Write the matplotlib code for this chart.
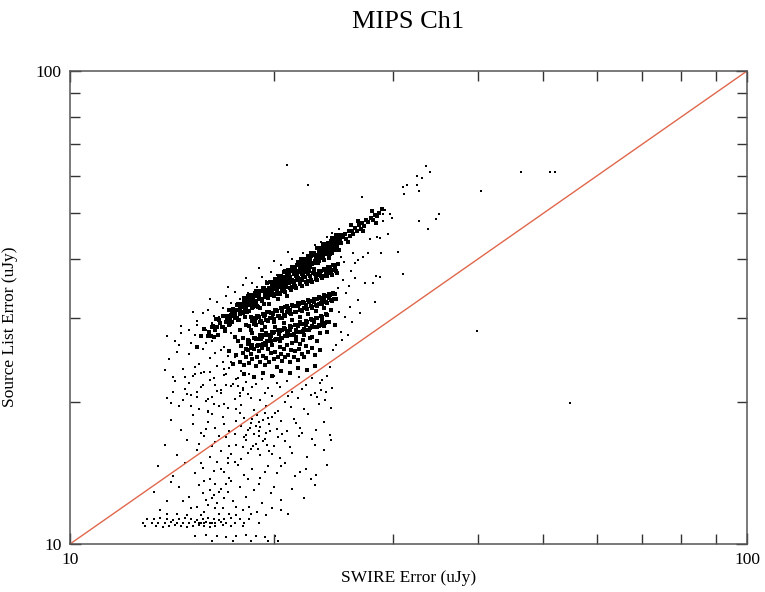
import numpy as np
import matplotlib
matplotlib.use('Agg')
import matplotlib.pyplot as plt
from matplotlib.ticker import FixedLocator, NullFormatter

### DATA (uJy)
# main (top) stripe, SWIRE error vs source list error
main_band = [
    (15.4, 26.1), (15.6, 27.5), (15.8, 28.5), (16.0, 27.5), (16.2, 28.8), (16.3, 27.4), (16.5, 28.8), (16.6, 29.7),
    (16.8, 28.7), (16.9, 30.4), (17.0, 29.4), (17.1, 30.3), (17.2, 29.1), (17.3, 30.5), (17.4, 31.4), (17.5, 30.1),
    (17.6, 31.3), (17.7, 29.8), (17.8, 31.1), (17.9, 32.0), (18.0, 30.8), (18.1, 32.5), (18.2, 31.4), (18.3, 32.4),
    (18.4, 31.1), (18.5, 32.6), (18.6, 33.6), (18.7, 32.1), (18.8, 33.5), (18.9, 31.8), (19.0, 33.2), (19.1, 34.2),
    (19.2, 32.8), (19.3, 34.7), (19.4, 33.5), (19.5, 34.5), (19.6, 33.2), (19.7, 34.7), (19.8, 35.8), (19.9, 34.2),
    (20.0, 35.6), (20.1, 33.8), (20.2, 35.2), (20.3, 36.3), (20.4, 34.9), (20.5, 36.8), (20.6, 35.6), (20.7, 36.7),
    (20.8, 35.2), (20.9, 36.8), (21.0, 37.9), (21.1, 36.3), (21.2, 37.7), (21.3, 35.9), (21.4, 37.3), (21.5, 38.5),
    (21.6, 36.9), (21.7, 39.0), (21.8, 37.7), (21.9, 38.8), (22.0, 37.2), (22.1, 38.9), (22.2, 40.1), (22.3, 38.3),
    (22.4, 39.9), (22.5, 37.9), (22.6, 39.4), (22.7, 40.6), (22.8, 39.0), (22.9, 41.2), (23.0, 39.7), (23.1, 40.9),
    (23.2, 39.3), (23.3, 41.1), (23.4, 42.3), (23.5, 40.4), (23.6, 42.0), (23.7, 39.9), (23.8, 41.5), (23.9, 42.7),
    (24.0, 41.0), (24.1, 43.3), (24.2, 41.8), (24.3, 43.0), (24.4, 41.3), (24.5, 43.2), (24.6, 44.4), (24.7, 42.5),
    (24.8, 44.1), (24.9, 41.9), (25.0, 43.6), (25.1, 44.9),
    (16.05, 28.0), (16.15, 27.5), (16.25, 28.9), (16.35, 28.4), (16.45, 29.9), (16.55, 27.7), (16.65, 29.3), (16.75, 28.8),
    (16.85, 30.3), (16.95, 28.2), (17.05, 29.9), (17.15, 31.3), (17.25, 30.1), (17.35, 29.5), (17.45, 31.1), (17.55, 30.5),
    (17.65, 32.0), (17.75, 29.7), (17.85, 31.5), (17.95, 30.9), (18.05, 32.4), (18.15, 30.2), (18.25, 32.0), (18.35, 33.5),
    (18.45, 32.2), (18.55, 31.6), (18.65, 33.2), (18.75, 32.6), (18.85, 34.2), (18.95, 31.7), (19.05, 33.6), (19.15, 32.9),
    (19.25, 34.6), (19.35, 32.2), (19.45, 34.1), (19.55, 35.6), (19.65, 34.3), (19.75, 33.6), (19.85, 35.3), (19.95, 34.6),
    (20.05, 36.4), (20.15, 33.8), (20.25, 35.7), (20.35, 35.0), (20.45, 36.8), (20.55, 34.2), (20.65, 36.2), (20.75, 37.8),
    (20.85, 36.4), (20.95, 35.6), (21.05, 37.5), (21.15, 36.7), (21.25, 38.6), (21.35, 35.8), (21.45, 37.8), (21.55, 37.0),
    (21.65, 38.9), (21.75, 36.2), (21.85, 38.3), (21.95, 40.0), (22.05, 38.5), (22.15, 37.7), (22.25, 39.6), (22.35, 38.8),
    (22.45, 40.7), (22.55, 37.8), (22.65, 39.9), (22.75, 39.1), (22.85, 41.1), (22.95, 38.2), (23.05, 40.4), (23.15, 42.2),
    (23.25, 40.6), (23.35, 39.7), (23.45, 41.7), (23.55, 40.9), (23.65, 42.9), (23.75, 39.8), (23.85, 42.0), (23.95, 41.2),
    (24.05, 43.2), (24.15, 40.2), (24.25, 42.5), (24.35, 44.4), (24.45, 42.7), (24.55, 41.8), (24.65, 43.9), (24.75, 43.0),
    (24.85, 45.1), (24.95, 41.8), (25.05, 44.1), (25.15, 43.2),
    (17.03, 30.2), (17.13, 29.6), (17.23, 29.2), (17.33, 31.1), (17.43, 30.3), (17.53, 30.7), (17.63, 30.0), (17.73, 32.2),
    (17.83, 30.6), (17.93, 32.1), (18.03, 31.9), (18.13, 31.3), (18.23, 30.9), (18.33, 32.9), (18.43, 32.0), (18.53, 32.5),
    (18.63, 31.7), (18.73, 34.0), (18.83, 32.4), (18.93, 33.9), (19.03, 33.7), (19.13, 33.0), (19.23, 32.6), (19.33, 34.7),
    (19.43, 33.7), (19.53, 34.3), (19.63, 33.4), (19.73, 35.8), (19.83, 34.1), (19.93, 35.6), (20.03, 35.5), (20.13, 34.8),
    (20.23, 34.2), (20.33, 36.5), (20.43, 35.5), (20.53, 36.0), (20.63, 35.1), (20.73, 37.6), (20.83, 35.8), (20.93, 37.4),
    (21.03, 37.3), (21.13, 36.5), (21.23, 35.9), (21.33, 38.3), (21.43, 37.2), (21.53, 37.8), (21.63, 36.8), (21.73, 39.4),
    (21.83, 37.5), (21.93, 39.2), (22.03, 39.0), (22.13, 38.2), (22.23, 37.6), (22.33, 40.1), (22.43, 38.9), (22.53, 39.5),
    (22.63, 38.5), (22.73, 41.2), (22.83, 39.2), (22.93, 41.0), (23.03, 40.8), (23.13, 40.0), (23.23, 39.3), (23.33, 41.9),
    (23.43, 40.7), (23.53, 41.3), (23.63, 40.2), (23.73, 43.1), (23.83, 41.0), (23.93, 42.8), (24.03, 42.6), (24.13, 41.7),
    (24.23, 41.0), (24.33, 43.7), (24.43, 42.4), (24.53, 43.0), (24.63, 41.9), (24.73, 44.9), (24.83, 42.7), (24.93, 44.6),
]

# sparse continuation of the main stripe
tail = [
    (25.3, 44.6), (25.5, 45.3), (25.6, 44.1), (25.8, 45.9), (25.9, 44.8), (26.1, 46.0), (26.2, 45.2), (26.4, 46.6),
    (26.5, 45.9), (26.7, 47.2), (26.9, 46.4), (27.0, 47.8), (27.2, 47.0), (27.4, 48.3), (27.6, 47.9), (27.8, 48.9),
    (28.0, 48.4), (28.2, 49.6), (28.4, 49.3), (28.6, 50.2), (26.0, 47.3), (27.1, 45.9), (27.9, 50.5), (28.9, 51.0),
    (25.7, 43.5), (26.6, 48.1), (28.3, 47.6),
]

band_2 = [
    (18.0, 31.7), (18.1, 33.2), (18.2, 33.0), (18.3, 32.3), (18.4, 32.1), (18.5, 33.6), (18.6, 33.3), (18.7, 32.6),
    (18.8, 32.4), (18.9, 33.9), (19.0, 33.7), (19.1, 33.0), (19.2, 32.8), (19.3, 34.3), (19.4, 34.0), (19.5, 33.3),
    (19.6, 33.1), (19.7, 34.6), (19.8, 34.4), (19.9, 33.7), (20.0, 33.4), (20.1, 35.0), (20.2, 34.7), (20.3, 34.0),
    (20.4, 33.7), (20.5, 35.3), (20.6, 35.1), (20.7, 34.4), (20.8, 34.1), (20.9, 35.7), (21.0, 35.6), (21.1, 34.8),
    (21.2, 34.4), (21.3, 36.1), (21.4, 35.9), (21.5, 35.1), (21.6, 34.8), (21.7, 36.5), (21.8, 36.3), (21.9, 35.5),
    (22.0, 35.1), (22.1, 36.9), (22.2, 36.6), (22.3, 35.8), (22.4, 35.5), (22.5, 37.2), (22.6, 36.9), (22.7, 36.1),
    (22.8, 35.8), (22.9, 37.5), (23.0, 37.3), (23.1, 36.4), (23.2, 36.1), (23.3, 37.8), (23.4, 37.6), (23.5, 36.8),
    (23.6, 36.5), (23.7, 38.2), (23.8, 37.9), (23.9, 37.1), (24.0, 36.8), (24.1, 38.5), (24.2, 38.2), (24.3, 37.4),
    (24.4, 37.1), (24.5, 38.8), (24.6, 38.6), (24.7, 37.8), (24.8, 37.4), (24.9, 39.1),
    (18.25, 32.7), (18.45, 32.6), (18.65, 33.6), (18.85, 32.7), (19.05, 33.6), (19.25, 34.3), (19.45, 33.5), (19.65, 33.9),
    (19.85, 34.6), (20.05, 33.8), (20.25, 34.7), (20.45, 35.3), (20.65, 34.5), (20.85, 35.0), (21.05, 35.7), (21.25, 34.9),
    (21.45, 35.7), (21.65, 36.4), (21.85, 35.5), (22.05, 36.1), (22.25, 36.7), (22.45, 35.9), (22.65, 36.8), (22.85, 37.4),
    (23.05, 36.5), (23.25, 37.1), (23.45, 37.8), (23.65, 36.8), (23.85, 37.8), (24.05, 38.5), (24.25, 37.5), (24.45, 38.0),
    (24.65, 38.8),
]

band_3 = [
    (18.4, 28.9), (18.5, 30.2), (18.6, 30.0), (18.7, 29.2), (18.8, 29.1), (18.9, 30.4), (19.0, 30.2), (19.1, 29.4),
    (19.2, 29.3), (19.3, 30.7), (19.4, 30.5), (19.5, 29.7), (19.6, 29.6), (19.7, 31.0), (19.8, 30.8), (19.9, 30.0),
    (20.0, 29.9), (20.1, 31.3), (20.2, 31.1), (20.3, 30.3), (20.4, 30.1), (20.5, 31.5), (20.6, 31.3), (20.7, 30.5),
    (20.8, 30.4), (20.9, 31.8), (21.0, 31.6), (21.1, 30.8), (21.2, 30.6), (21.3, 32.0), (21.4, 31.8), (21.5, 31.0),
    (21.6, 30.9), (21.7, 32.3), (21.8, 32.1), (21.9, 31.2), (22.0, 31.1), (22.1, 32.5), (22.2, 32.4), (22.3, 31.5),
    (22.4, 31.4), (22.5, 32.8), (22.6, 32.6), (22.7, 31.8), (22.8, 31.6), (22.9, 33.0), (23.0, 32.9), (23.1, 32.0),
    (23.2, 31.9), (23.3, 33.3), (23.4, 33.1), (23.5, 32.3), (23.6, 32.1), (23.7, 33.6), (23.8, 33.4), (23.9, 32.5),
    (24.0, 32.4), (24.1, 33.8), (24.2, 33.6), (24.3, 32.8), (24.4, 32.6), (24.5, 34.0), (24.6, 33.8), (24.7, 33.0),
    (18.55, 29.6), (18.75, 29.5), (18.95, 30.3), (19.15, 29.6), (19.35, 30.4), (19.55, 30.9), (19.75, 30.1), (19.95, 30.6),
    (20.15, 31.2), (20.35, 30.3), (20.55, 31.1), (20.75, 31.7), (20.95, 30.9), (21.15, 31.3), (21.35, 31.9), (21.55, 31.0),
    (21.75, 31.8), (21.95, 32.4), (22.15, 31.5), (22.35, 32.0), (22.55, 32.5), (22.75, 31.7), (22.95, 32.5), (23.15, 33.0),
    (23.35, 32.2), (23.55, 32.6), (23.75, 33.2), (23.95, 32.4), (24.15, 33.1), (24.35, 33.8), (24.55, 32.9),
]

band_4 = [
    (18.2, 25.8), (18.3, 27.0), (18.4, 26.9), (18.5, 26.0), (18.6, 26.1), (18.7, 27.3), (18.8, 27.1), (18.9, 26.2),
    (19.0, 26.3), (19.1, 27.6), (19.2, 27.4), (19.3, 26.5), (19.4, 26.6), (19.5, 27.9), (19.6, 27.7), (19.7, 26.8),
    (19.8, 26.9), (19.9, 28.1), (20.0, 28.0), (20.1, 27.0), (20.2, 27.1), (20.3, 28.4), (20.4, 28.2), (20.5, 27.3),
    (20.6, 27.3), (20.7, 28.6), (20.8, 28.5), (20.9, 27.5), (21.0, 27.6), (21.1, 28.9), (21.2, 28.7), (21.3, 27.7),
    (21.4, 27.8), (21.5, 29.1), (21.6, 29.0), (21.7, 28.0), (21.8, 28.1), (21.9, 29.4), (22.0, 29.2), (22.1, 28.2),
    (22.2, 28.3), (22.3, 29.6), (22.4, 29.5), (22.5, 28.4), (22.6, 28.6), (22.7, 29.9), (22.8, 29.7), (22.9, 28.7),
    (23.0, 28.8), (23.1, 30.1), (23.2, 30.0), (23.3, 28.9), (23.4, 29.1), (23.5, 30.4), (23.6, 30.2), (23.7, 29.2),
    (23.8, 29.3), (23.9, 30.6), (24.0, 30.5), (24.1, 29.4),
    (18.35, 26.5), (18.55, 26.3), (18.75, 27.2), (18.95, 26.4), (19.15, 27.1), (19.35, 27.6), (19.55, 26.9), (19.75, 27.3),
    (19.95, 27.9), (20.15, 27.1), (20.35, 27.8), (20.55, 28.3), (20.75, 27.5), (20.95, 27.9), (21.15, 28.4), (21.35, 27.7),
    (21.55, 28.3), (21.75, 28.9), (21.95, 28.1), (22.15, 28.5), (22.35, 29.0), (22.55, 28.3), (22.75, 28.9), (22.95, 29.5),
    (23.15, 28.7), (23.35, 29.1), (23.55, 29.6), (23.75, 28.9), (23.95, 29.5),
]

# dense cloud under / between the stripes
cloud_mid = [
    (17.6, 25.1), (17.8, 24.3), (17.9, 26.2), (18.0, 25.4), (18.1, 23.9), (18.2, 24.8), (18.3, 25.7), (18.4, 24.1),
    (18.5, 25.2), (18.6, 24.6), (18.7, 25.9), (18.8, 23.8), (18.9, 24.9), (19.0, 25.6), (19.1, 24.3), (19.2, 26.0),
    (19.3, 25.0), (19.4, 23.9), (19.5, 24.7), (19.6, 25.8), (19.7, 24.2), (19.8, 25.3), (19.9, 26.3), (20.0, 24.6),
    (20.1, 25.5), (20.2, 23.7), (20.3, 24.9), (20.4, 26.1), (20.5, 25.2), (20.6, 24.4), (20.7, 25.9), (20.8, 24.8),
    (20.9, 26.4), (21.0, 25.1), (21.1, 24.2), (21.2, 25.7), (21.3, 26.6), (21.4, 24.9), (21.5, 25.6), (21.6, 26.9),
    (21.7, 24.5), (21.8, 25.8), (21.9, 26.5), (22.0, 25.2), (22.1, 27.0), (22.2, 24.8), (22.3, 26.2), (22.5, 25.5),
    (22.6, 27.2), (22.8, 26.0), (23.0, 25.1), (23.2, 26.8), (23.4, 25.7), (17.7, 26.8), (18.0, 27.3), (18.3, 26.5),
    (18.6, 27.9), (18.9, 27.1), (19.2, 28.3), (19.5, 26.4), (19.8, 27.5), (20.1, 28.8), (20.4, 26.8), (20.7, 29.3),
    (21.0, 28.2), (21.3, 29.8), (21.6, 27.4), (21.9, 30.2), (22.2, 27.7), (22.5, 30.6), (22.8, 27.4), (23.1, 31.1),
    (23.4, 27.9), (23.7, 31.5), (24.0, 28.1), (24.3, 31.2), (24.6, 29.0), (18.1, 22.9), (18.7, 22.6), (19.3, 23.0),
    (19.9, 22.7), (20.5, 23.2), (21.1, 23.0), (21.7, 23.5), (22.4, 23.3), (23.0, 23.8), (17.4, 24.0), (17.2, 25.6),
    (17.5, 27.4), (17.8, 28.3), (18.2, 29.0), (18.5, 28.4), (18.8, 30.1), (19.1, 31.6), (19.4, 28.8), (19.7, 32.2),
    (20.0, 29.4), (20.3, 32.9), (20.6, 30.0), (20.9, 33.4),
]

# sparse cloud left of the stripes
cloud_left = [
    (14.0, 24.6), (14.3, 22.1), (14.5, 26.3), (14.7, 23.4), (14.9, 20.8), (15.0, 25.2), (15.2, 22.7), (15.3, 27.6),
    (15.5, 24.0), (15.6, 21.5), (15.7, 25.8), (15.8, 23.1), (15.9, 28.4), (16.0, 20.3), (16.1, 24.7), (16.2, 26.9),
    (16.3, 22.4), (16.4, 25.3), (16.5, 23.8), (16.6, 27.8), (16.7, 21.2), (16.8, 24.3), (16.9, 26.1), (17.0, 22.9),
    (17.1, 25.0), (17.2, 23.6), (17.3, 27.9), (17.4, 21.8), (17.5, 24.8), (17.6, 22.3), (17.8, 20.6), (17.9, 23.2),
    (18.0, 21.4), (18.2, 22.0), (16.2, 29.3), (16.6, 30.2), (15.4, 29.0), (17.0, 28.6), (14.6, 27.9), (15.1, 19.6),
    (16.0, 19.1), (16.9, 19.8), (17.6, 19.3), (14.2, 21.0), (13.8, 23.3), (15.3, 23.7), (16.1, 23.1), (16.7, 25.7),
    (17.3, 24.2), (15.9, 26.6), (14.4, 25.5), (14.8, 22.6), (15.1, 26.6), (15.6, 23.0), (16.4, 21.7), (16.9, 23.4),
    (17.7, 21.6), (15.4, 20.5), (16.6, 19.6), (14.1, 19.9),
]

# sparse points above the main stripe
cloud_top = [
    (15.0, 28.3), (15.4, 29.6), (15.7, 30.8), (16.0, 31.2), (16.3, 30.4), (16.5, 32.5), (16.8, 31.6), (17.0, 33.4),
    (17.3, 32.3), (17.5, 34.1), (17.8, 33.0), (18.0, 35.2), (18.3, 34.0), (18.6, 35.6), (18.9, 35.0), (19.2, 36.7),
    (19.5, 35.9), (19.8, 37.6), (20.2, 37.0), (20.5, 38.8), (20.9, 38.2), (21.3, 40.1), (21.7, 39.6), (22.1, 41.3),
    (22.6, 41.0), (23.0, 42.8), (23.5, 43.4), (24.0, 44.6), (24.4, 45.5), (25.0, 46.4), (14.6, 28.9), (15.2, 31.0),
    (16.1, 33.0), (17.1, 34.9), (18.2, 36.5), (19.0, 38.4), (20.0, 39.7), (21.0, 41.5), (14.3, 26.8), (13.9, 27.5),
]

# sparse points right of the stripes
cloud_right = [
    (27.0, 54.1), (27.75, 44.1), (28.4, 44.6), (26.2, 41.3), (26.35, 39.3), (26.6, 39.8), (27.1, 40.4), (27.6, 41.3),
    (27.3, 35.6), (26.35, 36.5), (28.0, 35.6), (26.6, 32.8), (25.9, 31.7), (28.3, 36.8), (28.2, 32.5), (26.1, 29.5),
    (26.8, 30.8), (25.1, 28.1), (25.7, 27.7), (24.5, 25.7), (24.2, 23.7), (23.6, 22.2), (23.5, 21.2), (23.9, 21.0),
    (23.2, 20.45), (25.3, 36.2), (25.6, 33.9), (25.0, 31.0), (25.4, 39.5), (25.8, 35.1), (24.9, 34.8), (25.2, 27.0),
    (24.7, 26.3), (25.5, 30.2), (26.0, 37.8), (24.8, 33.0), (25.1, 40.5),
]

# isolated outliers
outliers = [
    (33.6, 63.0), (32.6, 60.0), (33.1, 59.4), (34.0, 61.2), (31.5, 57.4), (31.0, 56.9), (32.6, 57.4), (32.8, 55.8),
    (31.1, 55.0), (40.5, 55.8), (46.4, 61.2), (51.2, 61.2), (52.1, 61.2), (29.2, 50.8), (29.0, 49.9), (29.7, 49.9),
    (29.9, 48.9), (29.0, 48.2), (35.1, 49.9), (34.7, 48.7), (32.8, 48.2), (33.8, 46.3), (29.5, 45.2), (28.7, 44.4),
    (30.5, 41.4), (28.8, 41.3), (31.0, 37.2), (28.7, 36.7), (39.9, 28.2), (54.8, 19.9), (22.5, 57.4), (20.9, 63.4),
]

# lower column below the one-to-one line
column_low = [
    (14.2, 22.6), (14.8, 21.3), (15.3, 22.9), (15.7, 21.7), (16.1, 22.2), (16.5, 21.1), (16.9, 22.8), (17.3, 21.6),
    (17.7, 22.4), (18.0, 21.2), (18.4, 22.9), (18.8, 21.8), (19.2, 22.3), (19.6, 21.4), (20.0, 22.7), (20.4, 21.5),
    (20.9, 22.1), (21.3, 21.0), (21.8, 22.6), (22.3, 21.7), (22.8, 22.4), (23.4, 21.9), (24.0, 22.7), (24.4, 21.4),
    (15.0, 21.9),
    (13.9, 20.4), (14.5, 19.6), (15.1, 20.7), (15.5, 19.3), (15.9, 20.1), (16.3, 19.8), (16.7, 20.9), (17.1, 19.4),
    (17.5, 20.3), (17.9, 19.7), (18.3, 20.8), (18.7, 19.2), (19.1, 20.2), (19.5, 19.6), (19.9, 20.6), (20.3, 19.1),
    (20.8, 20.0), (21.2, 19.5), (21.7, 20.4), (22.2, 19.3), (22.7, 20.7), (23.3, 19.8), (23.8, 20.2), (24.3, 19.4),
    (16.0, 19.0), (18.5, 20.4),
    (14.7, 20.2), (15.4, 21.0), (16.2, 20.5), (17.0, 21.7), (17.8, 20.9), (18.6, 21.5), (19.4, 20.9), (20.2, 21.9),
    (21.0, 20.6), (22.0, 21.3), (23.0, 20.9),
    (14.1, 18.3), (14.6, 17.4), (15.2, 18.7), (15.6, 17.2), (16.0, 18.1), (16.4, 17.6), (16.8, 18.6), (17.2, 17.3),
    (17.6, 18.2), (17.9, 17.8), (18.1, 18.5), (18.3, 17.4), (18.5, 18.0), (18.7, 17.1), (18.9, 18.7), (19.1, 17.7),
    (19.3, 18.3), (19.5, 17.2), (19.7, 17.9), (19.9, 18.6), (20.2, 17.5), (20.5, 18.2), (20.9, 17.3), (21.4, 18.4),
    (21.9, 17.6), (22.5, 18.8), (23.1, 17.4), (23.7, 18.1), (24.2, 17.0), (18.2, 17.0), (18.6, 18.4), (19.0, 17.3),
    (19.4, 18.9), (18.8, 17.8), (19.6, 18.5),
    (15.2, 17.9), (15.5, 16.3), (15.9, 17.5), (16.2, 18.8), (16.6, 16.9), (16.9, 17.9), (17.2, 16.1), (17.5, 17.1),
    (17.8, 18.9), (18.05, 16.8), (18.35, 15.6), (18.45, 17.6), (18.65, 16.1), (18.95, 15.9), (19.05, 18.1), (19.25, 16.5),
    (19.55, 16.2), (19.75, 17.3), (20.1, 18.9), (20.3, 16.8), (20.6, 17.1), (21.1, 16.0), (21.6, 18.0), (22.0, 17.2),
    (22.8, 16.7),
    (13.8, 16.2), (14.4, 15.4), (14.9, 16.6), (15.4, 15.8), (15.8, 16.9), (16.1, 15.3), (16.4, 16.4), (16.7, 15.7),
    (17.0, 16.8), (17.3, 15.5), (17.6, 16.2), (17.9, 15.1), (18.2, 16.6), (18.5, 15.9), (18.8, 16.3), (19.1, 15.4),
    (19.4, 16.7), (19.7, 15.7), (20.0, 16.1), (20.4, 15.2), (20.8, 16.5), (21.3, 15.6), (21.8, 16.9), (22.4, 15.3),
    (23.0, 16.2), (23.7, 15.8), (24.3, 16.6), (16.2, 16.1), (17.1, 15.2), (18.0, 16.0), (19.0, 16.9), (19.9, 15.5),
    (13.5, 14.6), (14.2, 13.9), (14.8, 14.8), (15.3, 14.1), (15.7, 14.5), (16.1, 13.7), (16.5, 14.9), (16.9, 14.2),
    (17.3, 13.6), (17.7, 14.7), (18.1, 14.0), (18.6, 14.4), (19.1, 13.8), (19.6, 14.6), (20.2, 14.1), (20.8, 14.8),
    (21.5, 13.9), (22.3, 14.4), (23.1, 14.0), (24.0, 14.7), (16.3, 14.3), (17.5, 14.9),
    (15.6, 14.8), (16.7, 14.4), (17.1, 14.8), (18.3, 13.7), (19.4, 14.2), (20.5, 14.6), (21.9, 14.2), (22.7, 13.7),
    (13.3, 12.9), (13.9, 12.3), (14.5, 13.2), (15.0, 12.6), (15.5, 13.3), (15.9, 12.4), (16.1, 13.0), (16.3, 12.7),
    (16.5, 12.2), (16.7, 13.1), (16.9, 12.5), (17.1, 12.9), (17.4, 12.3), (17.8, 13.2), (18.2, 12.6), (18.7, 13.0),
    (19.2, 12.2), (19.8, 12.8), (20.5, 12.4), (21.3, 13.1), (22.2, 12.5), (23.0, 13.3), (16.0, 12.1), (16.6, 12.9),
    (17.0, 13.4), (15.7, 12.8),
    (15.4, 12.0), (15.8, 13.6), (16.2, 12.5), (16.4, 13.4), (16.8, 11.9), (17.2, 13.8), (17.6, 12.0), (18.4, 12.0),
    (19.0, 13.4), (20.0, 13.2), (14.7, 12.3), (14.1, 13.5),
    (13.6, 11.8), (14.4, 11.6), (15.1, 11.9), (15.8, 11.7), (16.4, 11.9), (17.2, 11.6), (18.0, 11.8), (18.9, 11.7),
    (19.9, 11.9), (21.0, 11.6), (14.9, 11.5), (15.6, 11.5), (16.6, 11.6), (17.6, 11.5), (18.5, 11.6), (19.5, 11.5),
    (20.5, 11.8), (13.9, 11.6),
]

# horizontal streaks near the bottom of the plot
bottom_rows = [
    (13.3, 11.3), (13.6, 11.35), (13.9, 11.3), (14.2, 11.25), (14.5, 11.3), (14.8, 11.35), (15.1, 11.3), (15.4, 11.25),
    (15.7, 11.3), (16.0, 11.35), (16.3, 11.3), (16.6, 11.25), (16.9, 11.3), (17.3, 11.35), (17.8, 11.3), (18.4, 11.3),
    (13.2, 11.1), (13.5, 11.05), (13.8, 11.1), (14.1, 11.15), (14.4, 11.1), (14.7, 11.05), (15.0, 11.1), (15.3, 11.15),
    (15.5, 11.1), (15.6, 11.05), (15.8, 11.1), (15.9, 11.15), (16.1, 11.1), (16.2, 11.05), (16.4, 11.1), (16.7, 11.15),
    (17.0, 11.1), (17.5, 11.05), (18.1, 11.1), (19.0, 11.1),
    (13.4, 10.9), (13.7, 10.85), (14.0, 10.9), (14.3, 10.95), (14.6, 10.9), (14.9, 10.85), (15.2, 10.9), (15.5, 10.95),
    (15.8, 10.9), (16.1, 10.85), (16.4, 10.9), (16.8, 10.95), (17.3, 10.9), (18.0, 10.9),
    (15.3, 10.4), (15.9, 10.45), (16.5, 10.4), (17.0, 10.35), (17.6, 10.4), (18.2, 10.45), (18.8, 10.4), (19.4, 10.35),
    (20.1, 10.4), (16.2, 10.15), (17.4, 10.15), (18.5, 10.15), (19.6, 10.15), (20.3, 10.15),
    (12.8, 11.1), (12.9, 10.9), (13.0, 11.3),
]

one_to_one = [10, 100]

### PLOT
serif = 'Liberation Serif'
fig = plt.figure(figsize=(7.65, 5.92), dpi=100)
ax = fig.add_axes([70 / 765, 1 - 544 / 592, 677 / 765, 473 / 592])

# the stripes are so crowded in the original that they read as solid
dense = np.array(main_band + band_2 + band_3 + band_4)
mid = np.array(cloud_mid + tail)
sparse = np.array(cloud_left + cloud_top + cloud_right + outliers + column_low + bottom_rows)
ax.scatter(dense[:, 0], dense[:, 1], s=12, c='black', marker='s', linewidths=0)
ax.scatter(mid[:, 0], mid[:, 1], s=7, c='black', marker='s', linewidths=0)
ax.scatter(sparse[:, 0], sparse[:, 1], s=4, c='black', marker='s', linewidths=0)
ax.plot(one_to_one, one_to_one, color='#e0674c', lw=1.0)

ax.set_xscale('log')
ax.set_yscale('log')
ax.set_xlim(10, 100)
ax.set_ylim(10, 100)

for axis in (ax.xaxis, ax.yaxis):
    axis.set_major_locator(FixedLocator([10, 100]))
    axis.set_minor_locator(FixedLocator([20, 30, 40, 50, 60, 70, 80, 90]))
    axis.set_minor_formatter(NullFormatter())
ax.set_xticklabels(['10', '100'])
ax.set_yticklabels(['10', '100'])

ax.tick_params(which='both', direction='in', top=True, right=True,
               color='#333333', width=1.0)
ax.tick_params(which='major', length=8, pad=6, labelsize=12.5)
ax.tick_params(which='minor', length=7)
for lab in ax.get_xticklabels() + ax.get_yticklabels():
    lab.set_family(serif)

for sp in ax.spines.values():
    sp.set_color('#555555')
    sp.set_linewidth(1.1)

ax.set_xlabel('SWIRE Error (uJy)', family=serif, fontsize=12.5)
ax.set_ylabel('Source List Error (uJy)', family=serif, fontsize=12.5)
ax.xaxis.set_label_coords(0.5, -0.056)
ax.yaxis.set_label_coords(-0.077, 0.46)

fig.text(408 / 765, 1 - 22 / 592, 'MIPS Ch1', ha='center', va='center',
         family=serif, fontsize=19)

plt.savefig('out.png', dpi=100)
